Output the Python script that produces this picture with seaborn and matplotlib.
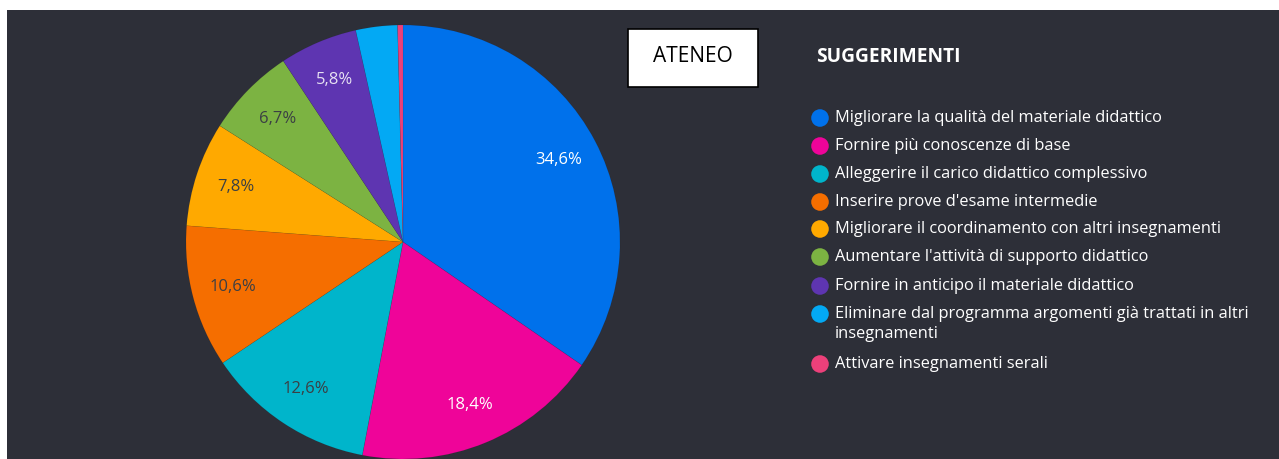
import matplotlib
matplotlib.use("Agg")
import matplotlib.pyplot as plt
import seaborn as sns
from matplotlib.patches import Rectangle

categories = [
    "Migliorare la qualità del materiale didattico",
    "Fornire più conoscenze di base",
    "Alleggerire il carico didattico complessivo",
    "Inserire prove d'esame intermedie",
    "Migliorare il coordinamento con altri insegnamenti",
    "Aumentare l'attività di supporto didattico",
    "Fornire in anticipo il materiale didattico",
    "Eliminare dal programma argomenti già trattati in altri\ninsegnamenti",
    "Attivare insegnamenti serali",
]
values = [34.6, 18.4, 12.6, 10.6, 7.8, 6.7, 5.8, 3.1, 0.4]
colors = ["#0071eb", "#ef0499", "#00b5cb", "#f56e00", "#ffa900",
          "#7cb342", "#5e35b1", "#03a9f4", "#ec407a"]
label_colors = ["white", "white", "#3b3f44", "#3b3f44", "#3b3f44",
                "#3b3f44", "#e6e0f2", "white", "white"]

BG = "#2d2f38"

sns.set_theme(style="dark")
plt.rcParams["font.family"] = ["Open Sans", "DejaVu Sans"]

W, H = 1279, 459
fig = plt.figure(figsize=(W / 100, H / 100), dpi=100, facecolor="white")

# dark panel (background axes)
bg = fig.add_axes([7 / W, 0, 1 - 7 / W, (H - 10) / H], zorder=-5)
bg.set_facecolor(BG)
bg.set_xticks([])
bg.set_yticks([])
for s in bg.spines.values():
    s.set_visible(False)

# pie
cx, cy, r = 403, 242, 217
ax = fig.add_axes([(cx - r) / W, (H - cy - r) / H, 2 * r / W, 2 * r / H])
ax.set_facecolor("none")


def fmt(p):
    return (f"{p:.1f}".replace(".", ",") + "%") if p >= 4 else ""


wedges, texts, autotexts = ax.pie(
    values, colors=colors, startangle=90, counterclock=False,
    autopct=fmt, pctdistance=0.81,
    wedgeprops=dict(edgecolor="#00000018", linewidth=0.4),
    textprops=dict(fontsize=12),
)
for t, c in zip(autotexts, label_colors):
    t.set_color(c)
ax.set_xlim(-1, 1)
ax.set_ylim(-1, 1)
ax.axis("off")

# overlay for box and legend (pixel coords)
ov = fig.add_axes([0, 0, 1, 1])
ov.set_xlim(0, W)
ov.set_ylim(H, 0)
ov.axis("off")

ov.add_patch(Rectangle((628, 29), 130, 58, facecolor="white", edgecolor="black", linewidth=1.2))
ov.text(693, 57, "ATENEO", ha="center", va="center", fontsize=15, color="black")

ov.text(816, 57, "SUGGERIMENTI", ha="left", va="center", fontsize=13.8,
        fontweight="bold", color="white")

row_y = [118, 146, 174, 202, 229, 257, 286, 314, 364]
ov.scatter([820] * len(row_y), row_y, s=160, c=colors, edgecolors="none", zorder=3)
for y, lab in zip(row_y, categories):
    for i, line in enumerate(lab.split("\n")):
        ov.text(835, y + 20 * i, line, ha="left", va="center",
                fontsize=11.8, color="white")

fig.savefig("out.png", dpi=100, facecolor="white")
